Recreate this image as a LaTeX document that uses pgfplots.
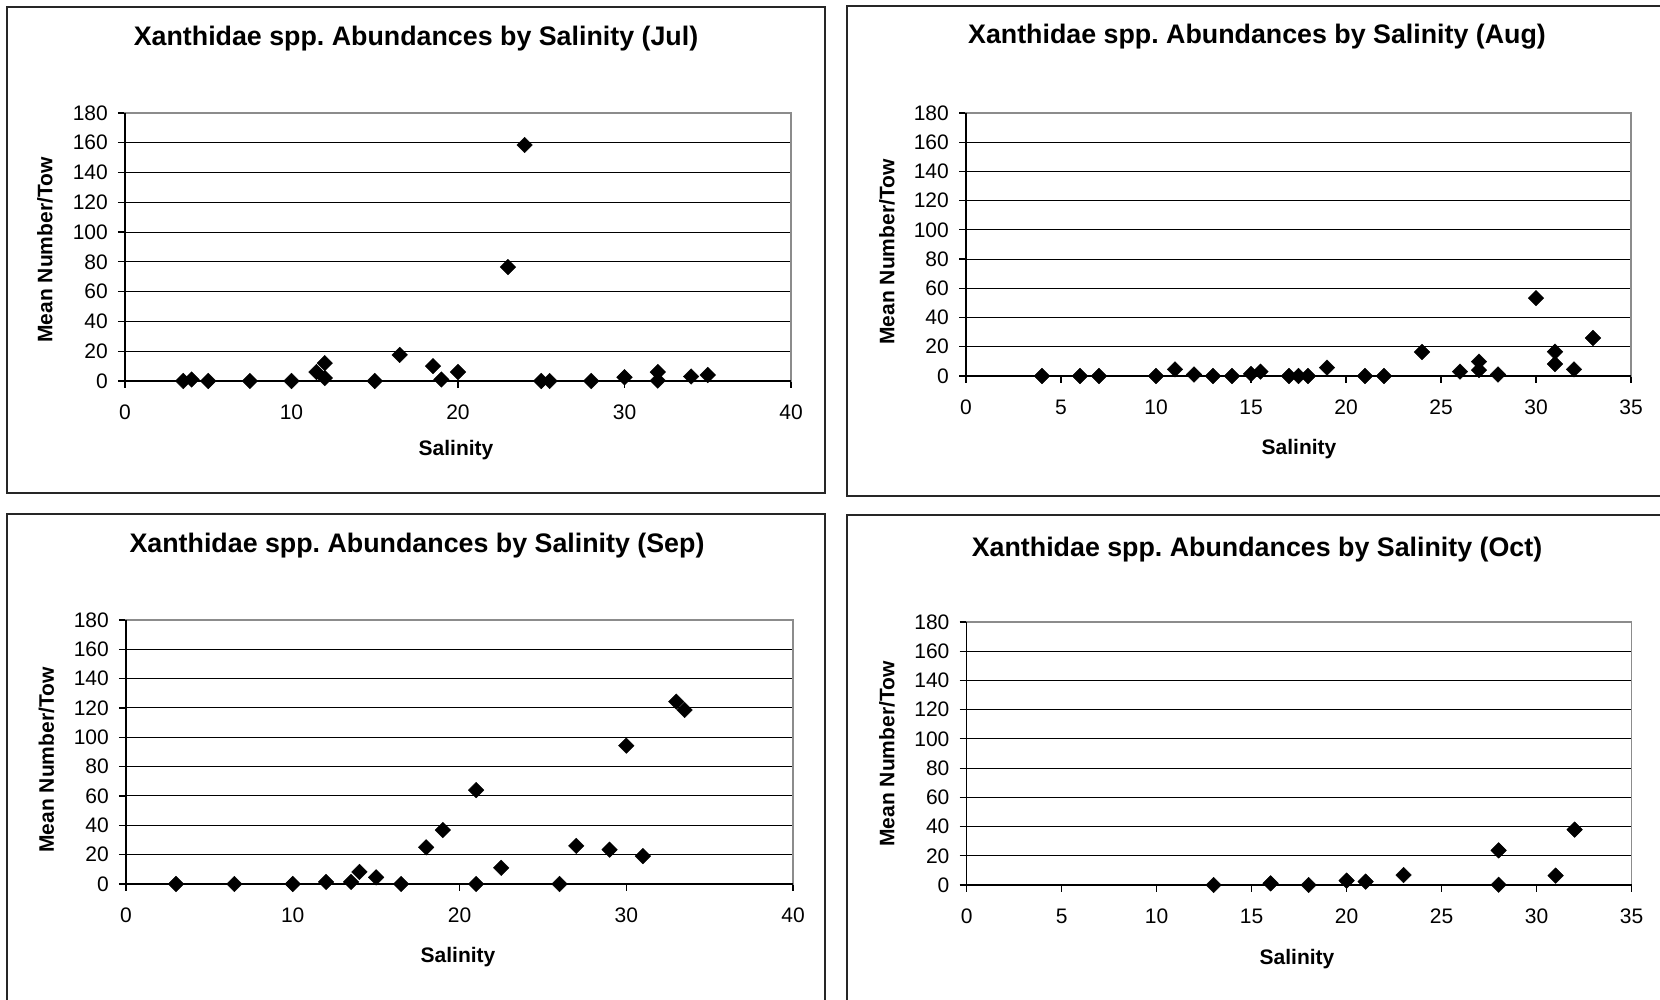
\documentclass[border=0pt]{standalone}
\usepackage{pgfplots}
\pgfplotsset{compat=1.18}
\usepackage{fontspec}
\setmainfont{Liberation Sans}
\frenchspacing

\pgfplotstableread{
x y
3.5 0
4 1
5 0
7.5 0
10 0
11.5 6
12 12
12 2
15 0
16.5 17.5
18.5 10
19 1
20 6
23 76.5
24 158.5
25 0
25.5 0
28 0
30 2.5
32 6
32 0.3
34 3
35 4
}\jul

\pgfplotstableread{
x y
4 0
6 0
7 0
10 0
11 4.5
12 1
13 0
14 0
15 1.4
15.5 3
17 0
17.5 0
18 0
19 5.7
21 0
22 0
24 16.4
26 3
27 9.8
27 4
28 1
30 53.3
31 16.6
31 8.2
32 4.5
33 26
}\aug

\pgfplotstableread{
x y
3 0
6.5 0
10 0
12 1.4
13.5 1.4
14 8.2
15 4.5
16.5 0
18 25
19 36.8
21 64
21 0
22.5 11
26 0
27 26
29 23.4
30 94.3
31 19
33 124.3
33.5 118.6
}\sep

\pgfplotstableread{
x y
13 0
16 1.1
18 0
20 3
21 2.3
23 6.8
28 23.7
28 0.2
31 6.4
32 37.9
}\oct

\pgfplotsset{
  panel/.style={
    scale only axis, clip=false,
    ymin=0, ymax=180, ytick={0,20,...,180},
    ymajorgrids, grid style={black, line width=1pt},
    axis line style={draw=black!45, line width=1.5pt},
    tick align=outside, tick pos=left, major tick length=7pt,
    tick style={black, line width=1.2pt},
    ticklabel style={font=\fontsize{21}{25}\selectfont},
    /pgf/number format/assume math mode=true,
    yticklabel style={anchor=east, inner sep=0pt, xshift=-10pt},
    xticklabel style={anchor=north, inner sep=0pt, yshift=-17pt},
  },
  dots/.style={black, only marks, mark=square*, mark size=5.5pt,
    mark options={rotate=45, fill=black, draw=black}},
}

\newcommand{\ttl}{\fontsize{26.8}{32}\selectfont\bfseries}
\newcommand{\lbl}{\fontsize{21}{25}\selectfont\bfseries}

\begin{document}
\begin{tikzpicture}[x=1pt,y=1pt]
\useasboundingbox (0pt,0pt) rectangle (1660pt,1000pt);
% frames
\draw[black!85, line width=2pt] (6.7pt,506.7pt) rectangle (825.3pt,993.3pt);
\draw[black!85, line width=2pt] (846.7pt,504.3pt) rectangle (1675pt,994.3pt);
\draw[black!85, line width=2pt] (6.7pt,-20pt) rectangle (825.3pt,486pt);
\draw[black!85, line width=2pt] (846.7pt,-20pt) rectangle (1675pt,485pt);

% Jul
\begin{axis}[panel, at={(125pt,619pt)}, anchor=south west, width=666pt, height=268pt,
  xmin=0, xmax=40, xtick={0,10,...,40}]
\draw[black, line width=1.5pt] (rel axis cs:0,1) -- (rel axis cs:0,0) -- (rel axis cs:1,0);
\addplot[dots] table[x=x,y=y] {\jul};
\end{axis}
% Aug
\begin{axis}[panel, at={(966pt,624pt)}, anchor=south west, width=665pt, height=263pt,
  xmin=0, xmax=35, xtick={0,5,...,35}]
\draw[black, line width=1.5pt] (rel axis cs:0,1) -- (rel axis cs:0,0) -- (rel axis cs:1,0);
\addplot[dots] table[x=x,y=y] {\aug};
\end{axis}
% Sep
\begin{axis}[panel, at={(126pt,116pt)}, anchor=south west, width=667pt, height=264pt,
  xmin=0, xmax=40, xtick={0,10,...,40}]
\draw[black, line width=1.5pt] (rel axis cs:0,1) -- (rel axis cs:0,0) -- (rel axis cs:1,0);
\addplot[dots] table[x=x,y=y] {\sep};
\end{axis}
% Oct
\begin{axis}[panel, at={(966.6pt,115pt)}, anchor=south west, width=665pt, height=263pt,
  xmin=0, xmax=35, xtick={0,5,...,35}]
\draw[black, line width=1.5pt] (rel axis cs:0,1) -- (rel axis cs:0,0) -- (rel axis cs:1,0);
\addplot[dots] table[x=x,y=y] {\oct};
\end{axis}

% titles
\node[font=\ttl] at (416pt,961pt) {Xanthidae spp. Abundances by Salinity (Jul)};
\node[font=\ttl] at (1257pt,963pt) {Xanthidae spp. Abundances by Salinity (Aug)};
\node[font=\ttl] at (417pt,454pt) {Xanthidae spp. Abundances by Salinity (Sep)};
\node[font=\ttl] at (1257pt,450.5pt) {Xanthidae spp. Abundances by Salinity (Oct)};
% y labels
\node[font=\lbl, rotate=90] at (45pt,750pt) {Mean Number/Tow};
\node[font=\lbl, rotate=90] at (887pt,748pt) {Mean Number/Tow};
\node[font=\lbl, rotate=90] at (46.6pt,240pt) {Mean Number/Tow};
\node[font=\lbl, rotate=90] at (887pt,246pt) {Mean Number/Tow};
% x labels
\node[font=\lbl] at (456pt,550pt) {Salinity};
\node[font=\lbl] at (1299pt,551pt) {Salinity};
\node[font=\lbl] at (458pt,43pt) {Salinity};
\node[font=\lbl] at (1297pt,41pt) {Salinity};
\end{tikzpicture}
\end{document}
